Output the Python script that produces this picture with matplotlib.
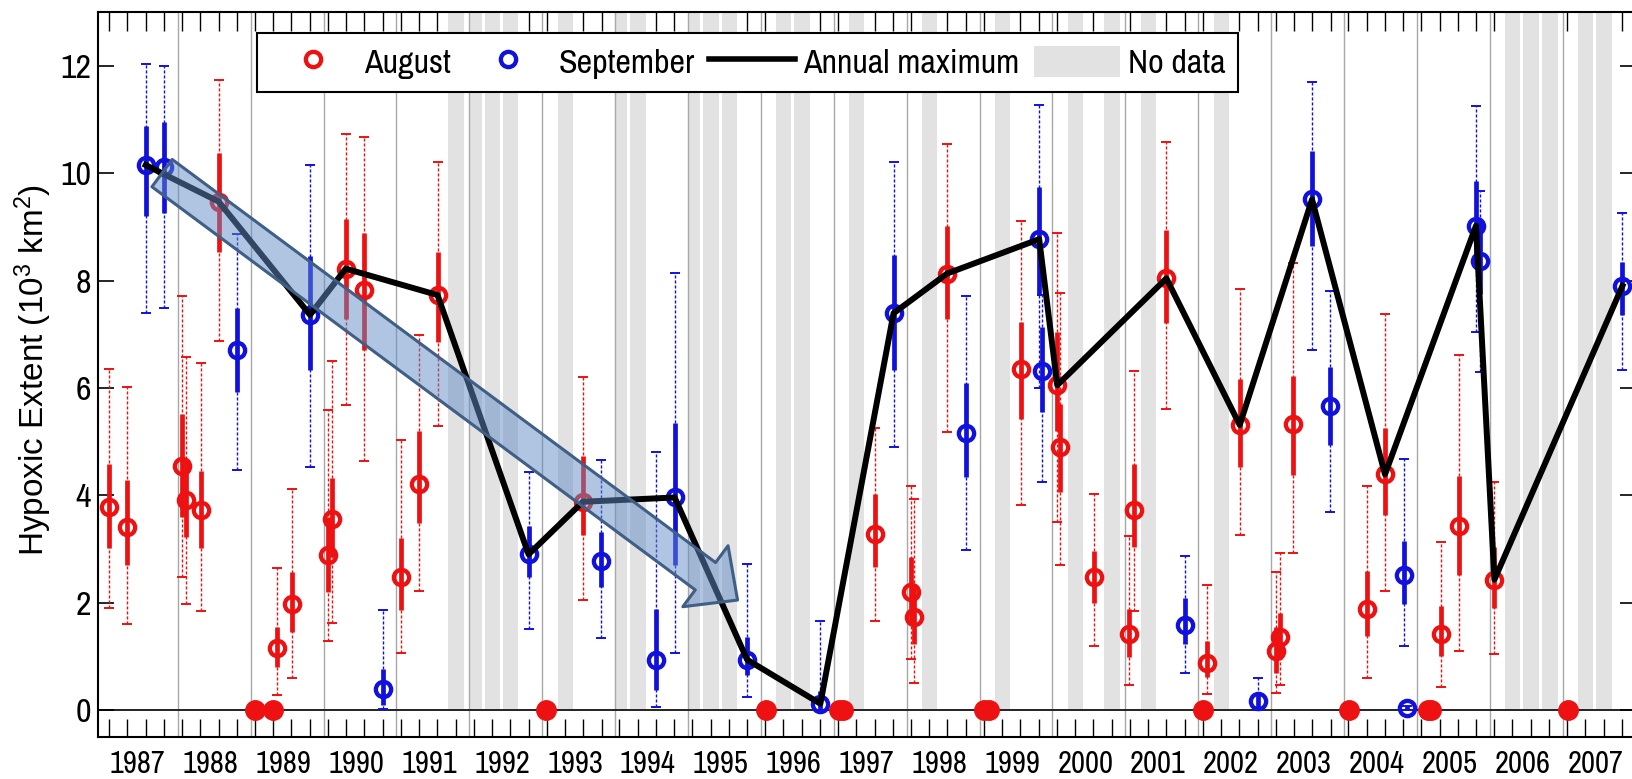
import matplotlib
matplotlib.use("Agg")
import numpy as np
import matplotlib.pyplot as plt
import matplotlib.transforms as mtransforms
from matplotlib import font_manager
from matplotlib.font_manager import FontProperties
from matplotlib.textpath import TextPath
from matplotlib.lines import Line2D
from matplotlib.patches import Patch, FancyArrowPatch, ArrowStyle


def pick_font(*names):
    for name in names:
        try:
            font_manager.findfont(name, fallback_to_default=False)
            return name
        except Exception:
            pass
    return "DejaVu Sans"


# the original uses a narrow Arial-like face for numbers and legend
NARROW = pick_font("Liberation Sans Narrow", "Archivo Narrow", "Roboto Condensed",
                   "PT Sans Narrow", "Liberation Sans")
REGULAR = pick_font("Liberation Sans", "Arimo", "DejaVu Sans")

plt.rcParams["font.family"] = [NARROW, "DejaVu Sans"]
plt.rcParams["mathtext.fontset"] = "custom"
plt.rcParams["mathtext.rm"] = REGULAR
plt.rcParams["mathtext.default"] = "rm"


def fit_size(s, family, w_px, h_px, w_weight=0.5):
    # font size (pt) whose ink box is closest to the wanted pixel size
    ext = TextPath((0, 0), s, size=100, prop=FontProperties(family=family)).get_extents()
    size_w = w_px / (ext.width / 100 * 100 / 72)
    size_h = h_px / (ext.height / 100 * 100 / 72)
    return size_w ** w_weight * size_h ** (1 - w_weight)


RED = "#ee1111"
BLUE = "#1111dd"
GRAY = "#e2e2e2"

# survey years and the four cruise slots inside each year
years = list(range(1987, 2008))
slot_pos = [0.06, 0.31, 0.56, 0.815]
slot_band = [(0.01, 0.17), (0.21, 0.42), (0.46, 0.67), (0.71, 0.93)]
no_data = [(1991, 3), (1992, 0), (1992, 1), (1992, 2), (1993, 1), (1994, 0),
           (1994, 1), (1995, 0), (1995, 1), (1995, 2), (1996, 1), (1996, 2),
           (1997, 1), (1998, 1), (1999, 1), (2000, 1), (2000, 3), (2001, 1),
           (2002, 1), (2006, 1), (2006, 2), (2006, 3), (2007, 1), (2007, 2)]

# August cruises: estimate, inner (thick) range, outer (dotted) range
aug_x = [1987.057, 1987.311, 1988.061, 1988.110, 1988.316, 1988.561, 1989.359,
         1989.565, 1990.060, 1990.118, 1990.305, 1990.560, 1991.059, 1991.304,
         1991.564, 1993.558, 1997.565, 1998.065, 1998.104, 1998.555, 1999.564,
         2000.066, 2000.103, 2000.570, 2001.055, 2001.113, 2001.563, 2002.119,
         2002.569, 2003.063, 2003.126, 2003.304, 2004.321, 2004.562, 2005.327,
         2005.578, 2006.063]
aug_y = [3.79, 3.41, 4.54, 3.92, 3.72, 9.47, 1.15, 1.97, 2.89, 3.56,
         8.22, 7.83, 2.48, 4.22, 7.73, 3.88, 3.28, 2.20, 1.74, 8.13,
         6.36, 6.05, 4.90, 2.48, 1.42, 3.72, 8.04, 0.88, 5.31, 1.10,
         1.37, 5.33, 1.89, 4.39, 1.42, 3.43, 2.43]
aug_lo = [3.02, 2.71, 3.60, 3.23, 3.02, 8.53, 0.80, 1.45, 2.20, 2.85,
          7.28, 6.70, 1.86, 3.48, 6.86, 3.26, 2.67, 1.65, 1.24, 7.28,
          5.43, 5.20, 4.07, 2.00, 0.99, 3.04, 7.21, 0.62, 4.53, 0.70,
          0.95, 4.38, 1.38, 3.64, 1.01, 2.52, 1.91]
aug_hi = [4.58, 4.28, 5.52, 4.65, 4.46, 10.37, 1.55, 2.58, 3.60, 4.33,
          9.14, 8.88, 3.20, 5.20, 8.53, 4.73, 4.02, 2.85, 2.30, 9.01,
          7.23, 7.04, 5.70, 2.97, 1.89, 4.59, 8.94, 1.28, 6.16, 1.55,
          1.80, 6.22, 2.59, 5.26, 1.94, 4.36, 3.03]
aug_min = [1.91, 1.60, 2.48, 1.97, 1.84, 6.87, 0.29, 0.60, 1.28, 1.63,
           5.68, 4.64, 1.06, 2.22, 5.29, 2.06, 1.66, 0.96, 0.50, 5.17,
           3.82, 3.51, 2.70, 1.19, 0.47, 1.85, 5.60, 0.30, 3.26, 0.31,
           0.47, 2.92, 0.60, 2.22, 0.43, 1.10, 1.04]
aug_max = [6.35, 6.02, 7.72, 6.58, 6.46, 11.74, 2.64, 4.11, 5.59, 6.50,
           10.72, 10.68, 5.03, 6.98, 10.21, 6.21, 5.25, 4.17, 3.94, 10.55,
           9.11, 8.88, 7.77, 4.02, 3.25, 6.32, 10.58, 2.33, 7.84, 2.58,
           2.93, 8.32, 4.17, 7.37, 3.14, 6.61, 4.25]
# August cruises that found no hypoxia
aug_zero_x = [1989.065, 1989.310, 1993.058, 1996.066, 1997.07, 1997.12, 1999.06,
              1999.13, 2002.062, 2004.065, 2005.15, 2005.19, 2007.069]

# September cruises
sep_x = [1987.561, 1987.816, 1988.811, 1989.815, 1990.814, 1992.813, 1993.813,
         1994.562, 1994.817, 1995.811, 1996.816, 1997.820, 1998.809, 1999.818,
         1999.851, 2001.815, 2002.820, 2003.561, 2003.812, 2004.819, 2004.867,
         2005.810, 2005.869, 2007.819]
sep_y = [10.15, 10.12, 6.70, 7.36, 0.40, 2.90, 2.77, 0.94, 3.96, 0.94, 0.12, 7.39,
         5.16, 8.77, 6.32, 1.58, 0.17, 9.51, 5.66, 2.51, 0.04, 9.02, 8.37, 7.90]
sep_lo = [9.20, 9.26, 5.93, 6.34, 0.09, 2.48, 2.30, 0.37, 2.70, 0.65, 0.00, 6.34,
          4.34, 7.73, 5.56, 1.24, 0.05, 8.64, 4.93, 1.97, 0.00, 8.30, 7.75, 7.36]
sep_hi = [10.87, 10.96, 7.48, 8.45, 0.76, 3.43, 3.32, 1.89, 5.34, 1.36, 0.35, 8.47,
          6.10, 9.75, 7.14, 2.08, 0.30, 10.41, 6.39, 3.15, 0.08, 9.85, 9.10, 8.35]
sep_min = [7.39, 7.48, 4.48, 4.52, 0.03, 1.52, 1.34, 0.06, 1.06, 0.25, 0.00, 4.90,
           2.98, 6.00, 4.25, 0.70, 0.00, 6.70, 3.69, 1.20, 0.00, 7.04, 6.29, 6.33]
sep_max = [12.04, 12.00, 8.86, 10.16, 1.86, 4.44, 4.66, 4.80, 8.14, 2.73, 1.66, 10.21,
           7.72, 11.27, 7.73, 2.87, 0.59, 11.70, 7.80, 4.67, 0.08, 11.25, 9.67, 9.25]

# annual maximum
max_x = [1987.561, 1988.561, 1989.815, 1990.305, 1991.564, 1992.813, 1993.558,
         1994.817, 1995.811, 1996.816, 1997.820, 1998.555, 1999.818, 2000.066,
         2001.563, 2002.569, 2003.561, 2004.562, 2005.810, 2006.063, 2007.819]
max_y = [10.15, 9.47, 7.36, 8.22, 7.73, 2.90, 3.88, 3.96, 0.94, 0.12, 7.39,
         8.13, 8.77, 6.05, 8.04, 5.31, 9.51, 4.39, 9.02, 2.43, 7.90]

# decline arrow 1987 -> 1995
trend_start = (1987.785, 10.0)
trend_end = (1995.68, 2.05)

YLABEL = "Hypoxic Extent (10$^3$ km$^2$)"
year_fs = fit_size("1987", NARROW, 53, 21.7)
ytick_fs = fit_size("12", NARROW, 28.3, 23.3)
ylabel_fs = fit_size(YLABEL, REGULAR, 396, 23.3, w_weight=0.85)

fig = plt.figure(figsize=(16.33, 7.79), dpi=100)
ax = fig.add_axes([0.06013, 0.05392, 0.94147, 0.93068])
ax.set_xlim(1986.909, 2008.0)
ax.set_ylim(-0.5, 13)

for yr, s in no_data:
    a, b = slot_band[s]
    ax.axvspan(yr + a, yr + b, ymin=0.5 / 13.5, ymax=1, color=GRAY, lw=0, zorder=0)
for yr in years[1:]:
    ax.axvline(yr, color="#a8a8a8", lw=1.0, zorder=0.5)
ax.axhline(0, color="#222222", lw=1.4, zorder=1)


def draw_series(x, y, lo, hi, dmin, dmax, color):
    x = np.asarray(x)
    y = np.asarray(y)
    eb = ax.errorbar(x, y, yerr=[y - np.asarray(dmin), np.asarray(dmax) - y],
                     fmt="none", ecolor=color, elinewidth=1.0, capsize=3.5,
                     capthick=1.4, zorder=2)
    eb[2][0].set_linestyle((0, (2.2, 1.4)))
    ax.vlines(x, lo, hi, color=color, lw=3.4, zorder=3)
    ax.plot(x, y, "o", ms=11, mfc="none", mec=color, mew=3.1, zorder=4)


draw_series(aug_x, aug_y, aug_lo, aug_hi, aug_min, aug_max, RED)
draw_series(sep_x, sep_y, sep_lo, sep_hi, sep_min, sep_max, BLUE)
ax.plot(aug_zero_x, np.zeros(len(aug_zero_x)), "o", ms=14, color=RED, mec=RED,
        zorder=4.5, clip_on=False)
ax.plot(max_x, max_y, color="black", lw=4.3, zorder=5)

arrow = FancyArrowPatch(trend_start, trend_end,
                        arrowstyle=ArrowStyle("Simple", head_length=28.8,
                                              head_width=54.7, tail_width=24.5),
                        mutation_scale=1, shrinkA=0, shrinkB=0,
                        facecolor=(0.38, 0.55, 0.77, 0.5), edgecolor="#3f5f86",
                        lw=2.2, zorder=6)
ax.add_patch(arrow)

# ticks: bottom at every cruise slot, top only where a cruise exists
all_ticks = [yr + s for yr in years for s in slot_pos]
data_ticks = [yr + slot_pos[s] for yr in years for s in range(4) if (yr, s) not in no_data]
ax.set_xticks(all_ticks)
ax.set_xticks(data_ticks, minor=True)
ax.xaxis.remove_overlapping_locs = False
ax.tick_params(axis="x", which="major", direction="in", length=13, width=1.0,
               bottom=True, top=False, labelbottom=False)
ax.tick_params(axis="x", which="minor", direction="in", length=13.5, width=1.0,
               bottom=False, top=True, labelbottom=False)
ax.set_yticks(range(0, 13, 2))
ax.tick_params(axis="y", direction="in", length=11.5, width=1.2, left=True,
               right=True, labelsize=ytick_fs, pad=5)
for sp in ax.spines.values():
    sp.set_linewidth(1.5)

trans = mtransforms.blended_transform_factory(ax.transData, ax.transAxes)
for yr in years:
    ax.text(yr + 0.45, -0.0501, str(yr), transform=trans, ha="center",
            va="baseline", fontsize=year_fs)

ax.text(-0.0424, 0.506, YLABEL, transform=ax.transAxes, rotation=90,
        ha="center", va="center", fontsize=ylabel_fs, family=REGULAR)

handles = [Line2D([], [], ls="none", marker="o", ms=11, mfc="none", mec=RED, mew=3.1),
           Line2D([], [], ls="none", marker="o", ms=11, mfc="none", mec=BLUE, mew=3.1),
           Line2D([], [], color="black", lw=4.0),
           Patch(facecolor=GRAY, edgecolor="none")]
leg = ax.legend(handles, ["August", "September", "Annual maximum", "No data"],
                ncol=4, loc="upper left", bbox_to_anchor=(0.1033, 0.9715),
                borderaxespad=0, frameon=True, fancybox=False, framealpha=1,
                edgecolor="black", fontsize=24.5, handlelength=2.52,
                handleheight=1.05, handletextpad=0.24, columnspacing=0.42,
                borderpad=0.38)
leg.get_frame().set_linewidth(1.5)
leg.set_zorder(10)

fig.savefig("out.png", dpi=100)
